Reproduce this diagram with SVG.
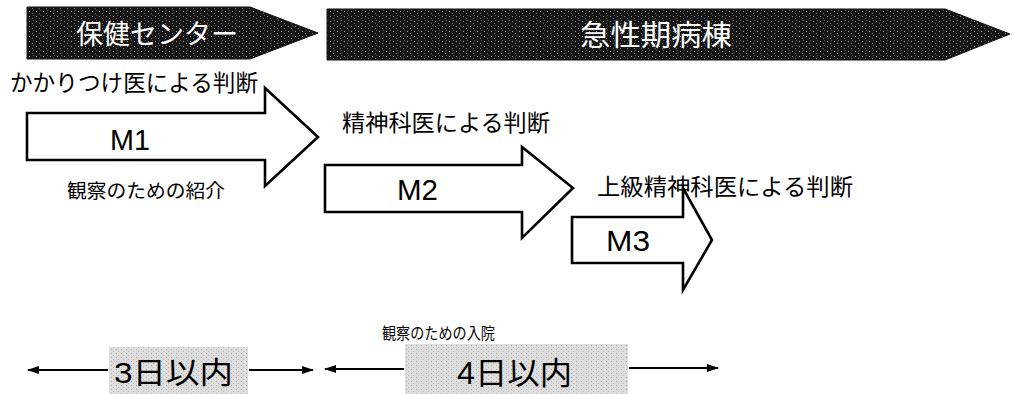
<svg xmlns="http://www.w3.org/2000/svg" width="1012" height="394" viewBox="0 0 1012 394">
  <defs>
    <pattern id="darkTex" width="7" height="5" patternUnits="userSpaceOnUse">
      <rect width="7" height="5" fill="#161616"/>
      <rect x="1" y="1" width="1" height="1" fill="#9a9a9a"/>
      <rect x="4" y="3" width="1" height="1" fill="#777"/>
      <rect x="5" y="0" width="1" height="1" fill="#555"/>
    </pattern>
    <pattern id="lightTex" width="5" height="4" patternUnits="userSpaceOnUse">
      <rect width="5" height="4" fill="#dedede"/>
      <rect x="1" y="1" width="1" height="1" fill="#aaa"/>
      <rect x="3" y="3" width="1" height="1" fill="#bbb"/>
    </pattern>
    <marker id="ah" viewBox="0 0 12 8" refX="11" refY="4" markerWidth="12" markerHeight="8" markerUnits="userSpaceOnUse" orient="auto-start-reverse">
      <path d="M0,0 L12,4 L0,8 Z" fill="#000"/>
    </marker>
    <style>
      .jp { font-family: "Liberation Sans", "Noto Sans CJK JP", sans-serif; fill: #000; }
      .ml { font-family: "Liberation Sans", Arial, sans-serif; fill: #000; font-size: 29px; }
      .blk { fill: #fff; stroke: #000; stroke-width: 2.6; stroke-linejoin: miter; }
      .ban { fill: url(#darkTex); stroke: #111; stroke-width: 1; }
      .bt { font-family: "Liberation Sans", "Noto Sans CJK JP", sans-serif; fill: #fff; }
      .conn { stroke: #000; stroke-width: 2.2; fill: none; }
      .gbox { fill: url(#lightTex); }
    </style>
  </defs>

  <rect width="1012" height="394" fill="#fff"/>

  <g id="banner-hoken">
    <path class="ban" d="M27,7 L250,7 L318,33 L250,59 L27,59 Z"/>
    <text class="bt" x="76" y="44" font-size="27" textLength="162" lengthAdjust="spacingAndGlyphs">保健センター</text>
  </g>

  <g id="banner-kyuseiki">
    <path class="ban" d="M327,9 L945,9 L1010,34 L945,60 L327,60 Z"/>
    <text class="bt" x="580" y="46" font-size="29" textLength="152" lengthAdjust="spacingAndGlyphs">急性期病棟</text>
  </g>

  <g id="label-kakaritsuke">
    <text class="jp" x="10" y="91" font-size="23" textLength="248" lengthAdjust="spacingAndGlyphs">かかりつけ医による判断</text>
  </g>

  <g id="node-M1">
    <path class="blk" d="M27,113 L265,113 L265,88 L318,137 L265,186 L265,160 L27,160 Z"/>
    <text class="ml" x="110" y="150" textLength="40" lengthAdjust="spacingAndGlyphs">M1</text>
  </g>

  <g id="label-shokai">
    <text class="jp" x="67" y="198" font-size="19.5" textLength="158" lengthAdjust="spacingAndGlyphs">観察のための紹介</text>
  </g>

  <g id="label-seishinka">
    <text class="jp" x="342" y="131" font-size="23" textLength="208" lengthAdjust="spacingAndGlyphs">精神科医による判断</text>
  </g>

  <g id="node-M2">
    <path class="blk" d="M325,165 L522,165 L522,147 L573,188 L522,238 L522,212 L325,212 Z"/>
    <text class="ml" x="397" y="200" textLength="41" lengthAdjust="spacingAndGlyphs">M2</text>
  </g>

  <g id="label-jokyu">
    <text class="jp" x="597" y="195" font-size="23" textLength="256" lengthAdjust="spacingAndGlyphs">上級精神科医による判断</text>
  </g>

  <g id="node-M3">
    <path class="blk" d="M572,217 L683,217 L683,188 L712,240 L683,290 L683,263 L572,263 Z"/>
    <text class="ml" x="606" y="251" textLength="44" lengthAdjust="spacingAndGlyphs">M3</text>
  </g>

  <g id="label-nyuin">
    <text class="jp" x="382" y="339" font-size="15.5" textLength="113" lengthAdjust="spacingAndGlyphs">観察のための入院</text>
  </g>

  <g id="node-3days">
    <rect class="gbox" x="109" y="347" width="139" height="47"/>
    <text class="jp" x="114" y="383" font-size="30" textLength="119" lengthAdjust="spacingAndGlyphs">3日以内</text>
  </g>

  <g id="node-4days">
    <rect class="gbox" x="405" y="344" width="223" height="50"/>
    <text class="jp" x="457" y="384" font-size="31" textLength="115" lengthAdjust="spacingAndGlyphs">4日以内</text>
  </g>

  <g id="connectors">
    <line class="conn" x1="108" y1="370" x2="28" y2="370" marker-end="url(#ah)"/>
    <line class="conn" x1="249" y1="370" x2="313" y2="370" marker-end="url(#ah)"/>
    <line class="conn" x1="404" y1="369" x2="325" y2="369" marker-end="url(#ah)"/>
    <line class="conn" x1="629" y1="368" x2="718" y2="368" marker-end="url(#ah)"/>
  </g>
</svg>
